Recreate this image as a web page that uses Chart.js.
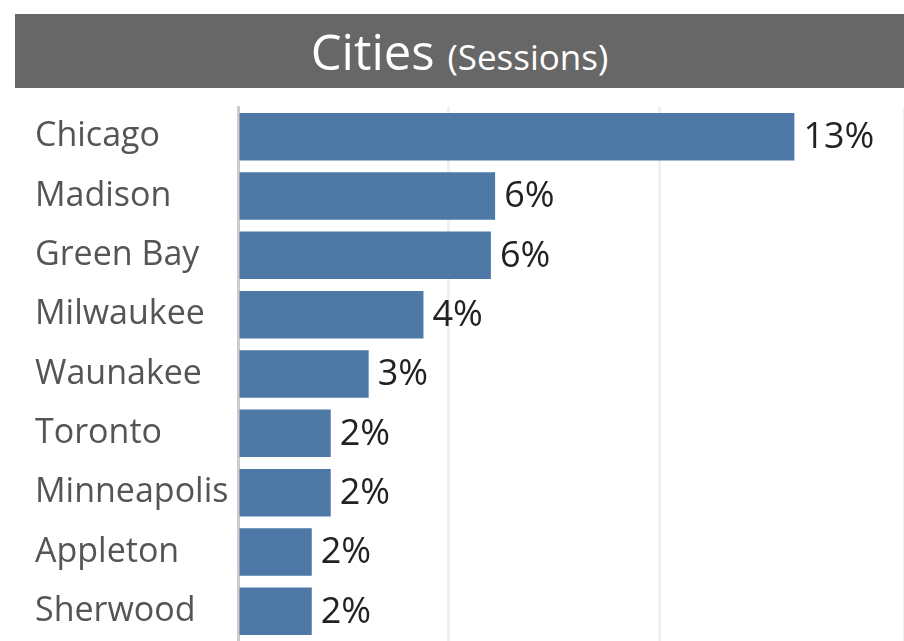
<!DOCTYPE html>
<html>
<head>
<meta charset="utf-8">
<script src="https://cdn.jsdelivr.net/npm/chart.js@4"></script>
<style>
body{margin:0;background:#fff;width:904px;height:641px;overflow:hidden;position:relative;font-family:"Open Sans",sans-serif}
#title{position:absolute;left:15px;top:14px;width:889px;height:74px;background:#676767;color:#fff;text-align:center;line-height:74px;font-size:49px}
#title span{font-size:35px}
#wrap{position:absolute;left:0;top:0;width:904px;height:641px}
</style>
</head>
<body>
<div id="wrap"><canvas id="chart" width="904" height="641"></canvas></div>
<div id="title">Cities <span>(Sessions)</span></div>
<script>
const cities=['Chicago','Madison','Green Bay','Milwaukee','Waunakee','Toronto','Minneapolis','Appleton','Sherwood'];
const sessions=[13.2,6.1,6.0,4.4,3.1,2.2,2.2,1.75,1.75];
const pctLabels=['13%','6%','6%','4%','3%','2%','2%','2%','2%'];

const valueLabels={id:'valueLabels',afterDatasetsDraw(c){
    const ctx=c.ctx;const meta=c.getDatasetMeta(0);
    ctx.save();ctx.font='36px "Open Sans"';ctx.fillStyle='#222';ctx.textBaseline='middle';ctx.textAlign='left';
    meta.data.forEach((b,i)=>{ctx.fillText(pctLabels[i],b.x+9,b.y+1)});
    ctx.restore();
}};

new Chart(document.getElementById('chart'),{type:'bar',
    data:{labels:cities,datasets:[{data:sessions,backgroundColor:'#4e79a7',categoryPercentage:1,barPercentage:0.8}]},
    options:{indexAxis:'y',responsive:false,animation:false,
        layout:{padding:{left:35,top:107,right:0,bottom:0}},
        plugins:{legend:{display:false},tooltip:{enabled:false}},
        scales:{
            x:{min:0,max:15.8,ticks:{display:false,stepSize:5,padding:0},border:{display:false},grid:{color:(c)=>c.index===0?'rgba(0,0,0,0)':'#f0f0f0',lineWidth:3,drawTicks:false},
               afterFit(s){s.height=0}},
            y:{grid:{display:false},border:{display:true,color:'#cccccc',width:3},
               ticks:{crossAlign:'far',color:'#555',font:{family:'Open Sans',size:34},padding:0},
               afterFit(s){s.width=203;s.paddingTop=0;s.paddingBottom=0}}
        }},
    plugins:[valueLabels]});
</script>
</body>
</html>
